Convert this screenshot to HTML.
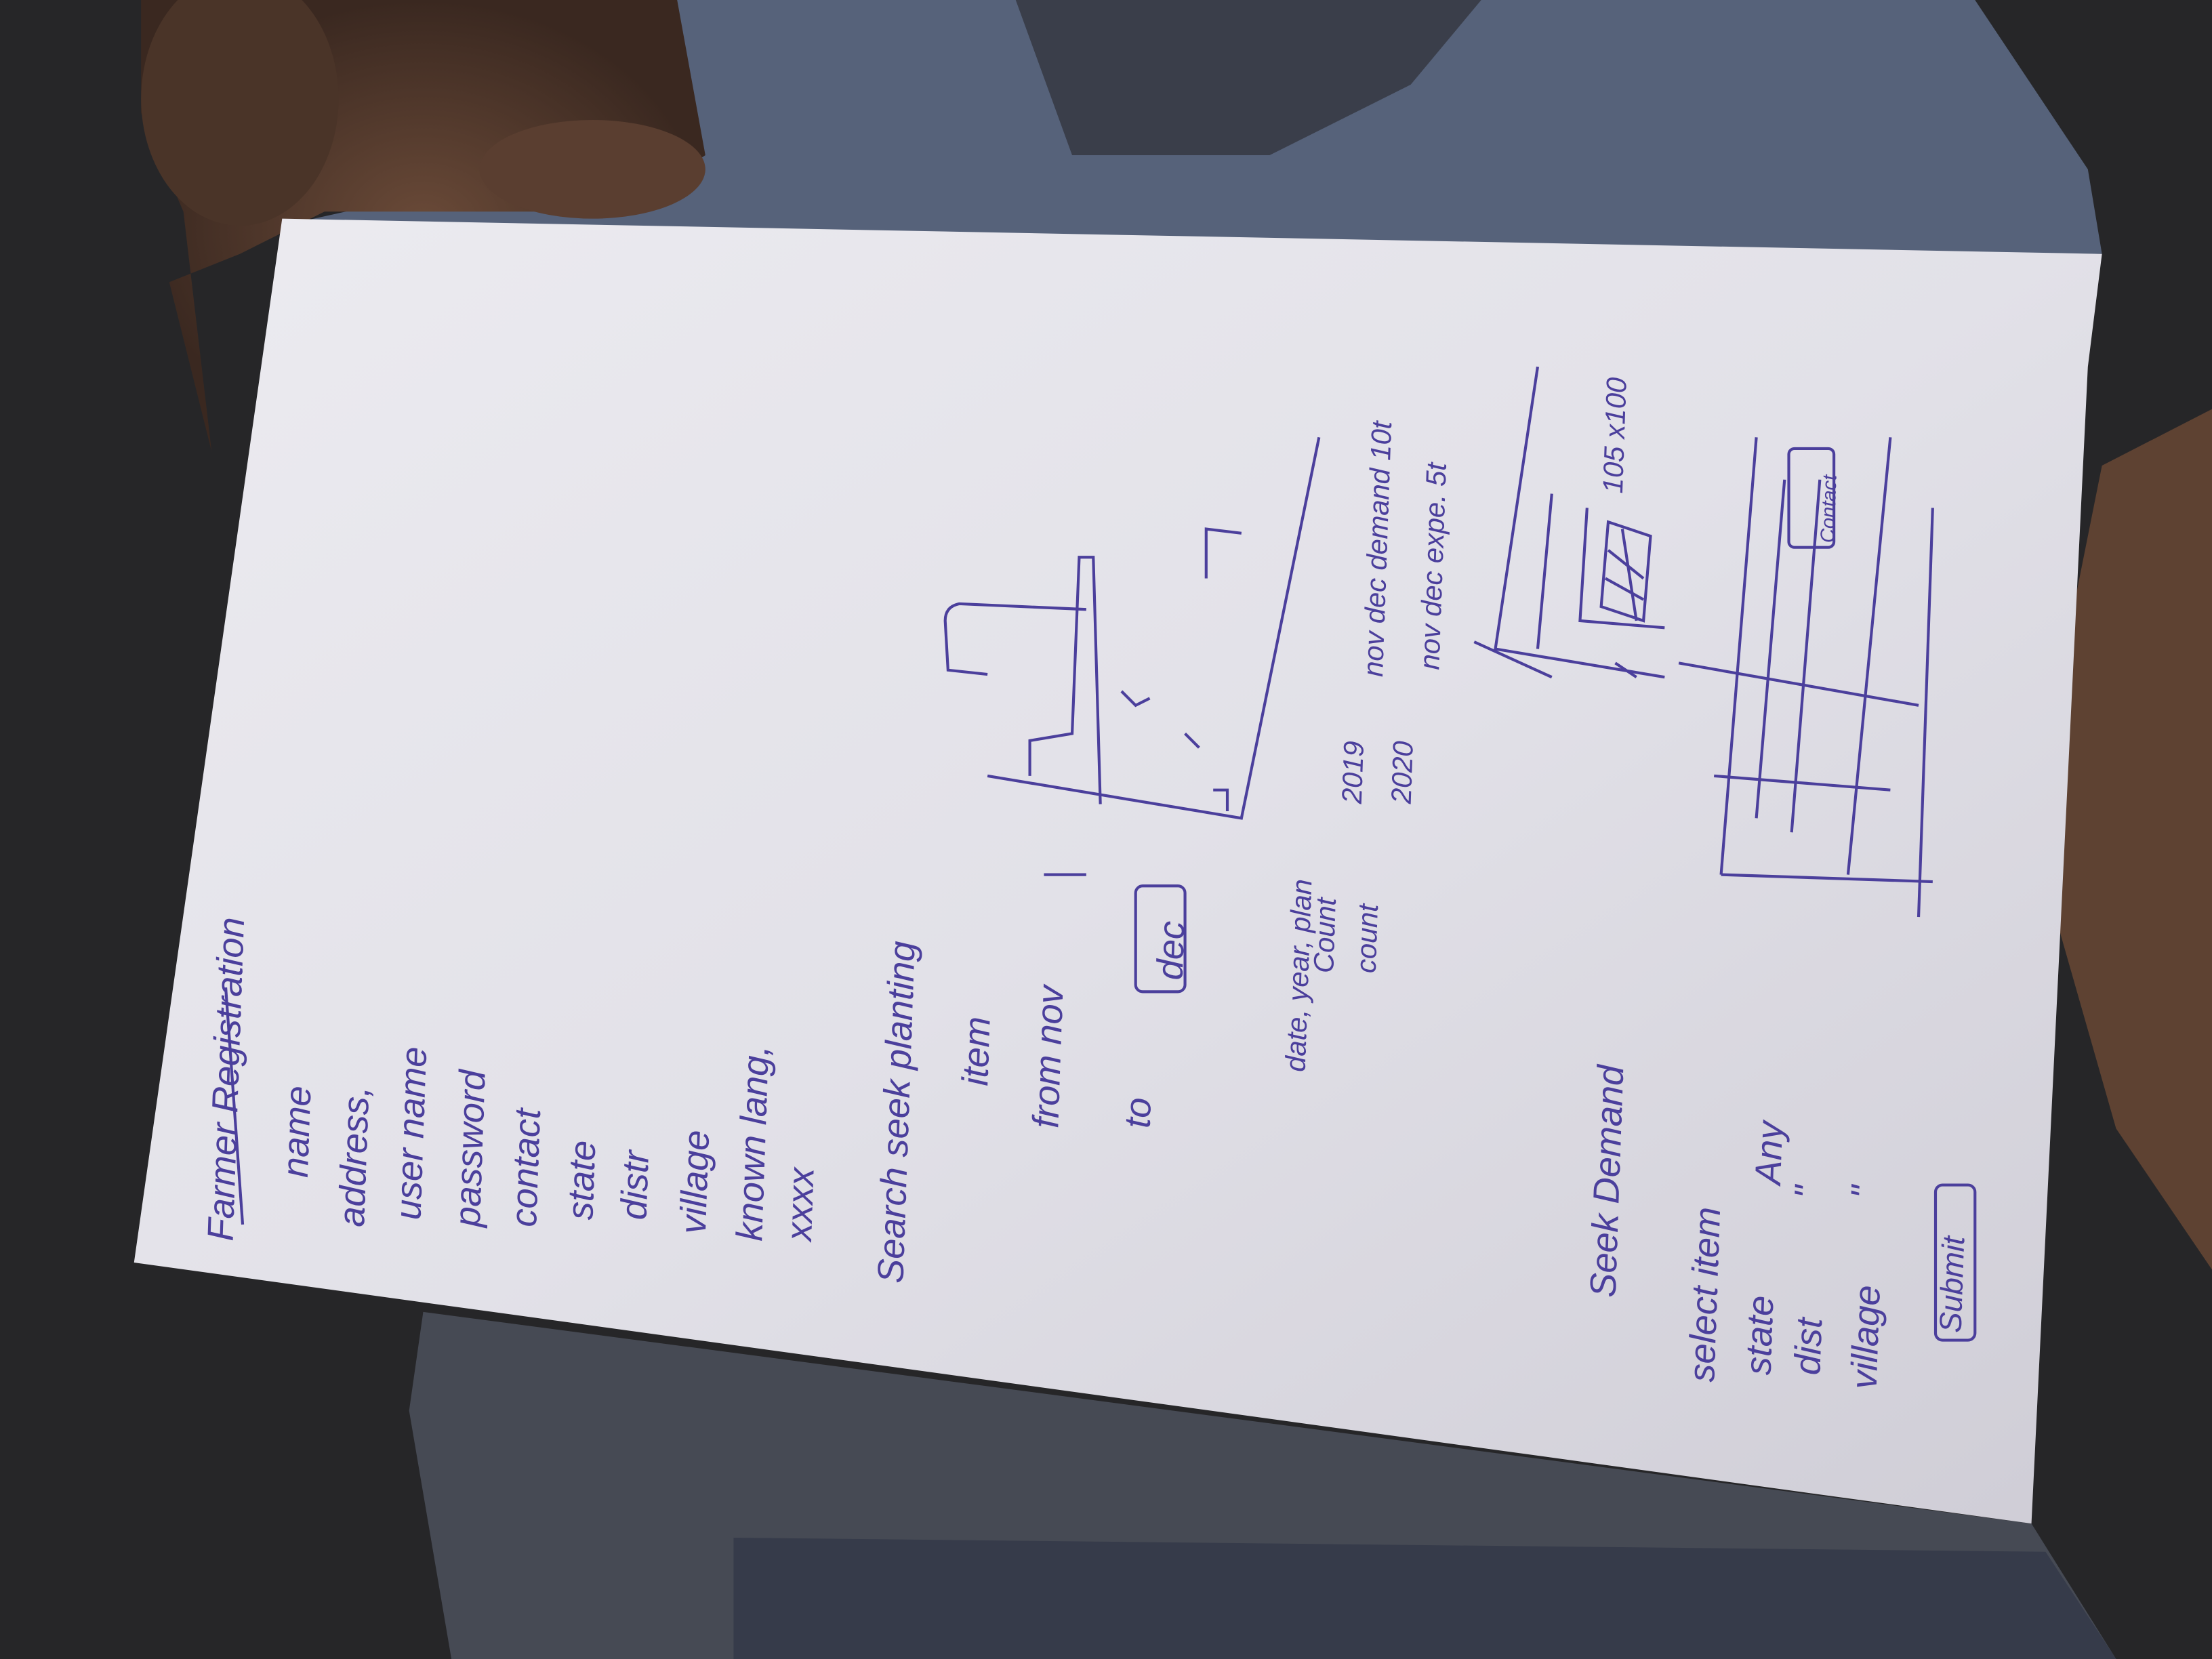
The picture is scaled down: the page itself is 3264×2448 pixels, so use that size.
<!DOCTYPE html>
<html><head><meta charset="utf-8"><style>
html,body{margin:0;padding:0;width:3264px;height:2448px;overflow:hidden;background:#2b2b2e}
svg{display:block}
text{font-family:"Liberation Sans",sans-serif;fill:#4b3f9c;font-style:italic}
</style></head><body>
<svg width="3264" height="2448" viewBox="0 0 1568 1176" preserveAspectRatio="none" xmlns="http://www.w3.org/2000/svg">
<defs>
<linearGradient id="pg" x1="0" y1="0" x2="1" y2="1">
<stop offset="0" stop-color="#ecebf0"/><stop offset="0.5" stop-color="#e2e1e8"/><stop offset="1" stop-color="#cfcdd6"/>
</linearGradient>
<radialGradient id="sk" cx="0.5" cy="0.5" r="0.5"><stop offset="0" stop-color="#6a4a38"/><stop offset="1" stop-color="#3a2820"/></radialGradient>
</defs>
<rect width="1568" height="1176" fill="#262628"/>
<path d="M420 0 L1400 0 L1480 120 L1490 180 L200 160 L380 120 Z" fill="#56627a"/>
<path d="M720 0 L1050 0 L1000 60 L900 110 L760 110 Z" fill="#3a3e4a"/>
<path d="M300 930 L1440 1080 L1500 1176 L320 1176 L290 1000 Z" fill="#464a54"/>
<path d="M520 1090 L1450 1100 L1500 1176 L520 1176 Z" fill="#363b4a"/>
<path d="M100 0 L480 0 L500 110 L440 150 L230 150 L170 180 L120 200 L150 320 L130 150 L100 80 Z" fill="url(#sk)"/>
<ellipse cx="170" cy="70" rx="70" ry="90" fill="#4a3428"/>
<ellipse cx="420" cy="120" rx="80" ry="35" fill="#5a3e30"/>
<path d="M1568 290 L1490 330 L1470 430 L1450 560 L1460 660 L1500 800 L1568 900 Z" fill="#5e4232"/>
<polygon points="200,155 1490,180 1480,260 1440,1080 95,895" fill="url(#pg)"/>
<g font-size="26">
<text transform="translate(165,880) rotate(-88)">Farmer Registration</text>
<line x1="172" y1="868" x2="160" y2="700" stroke="#4b3f9c" stroke-width="2"/>
<text transform="translate(218,835) rotate(-88)">name</text>
<text transform="translate(258,870) rotate(-88)">address,</text>
<text transform="translate(298,865) rotate(-88)">user name</text>
<text transform="translate(340,870) rotate(-88)">password</text>
<text transform="translate(380,870) rotate(-88)">contact</text>
<text transform="translate(420,865) rotate(-88)">state</text>
<text transform="translate(458,865) rotate(-88)">distr</text>
<text transform="translate(500,875) rotate(-88)">village</text>
<text transform="translate(540,880) rotate(-88)">known lang,</text>
<text transform="translate(575,880) rotate(-88)">xxxx</text>
<text transform="translate(640,910) rotate(-88)">Search seek planting</text>
<text transform="translate(700,770) rotate(-88)">item</text>
<text transform="translate(750,800) rotate(-88)">from  nov</text>
<text transform="translate(815,800) rotate(-88)">to</text>
<text transform="translate(838,695) rotate(-88)">dec</text>
<text transform="translate(925,760) rotate(-88)" font-size="20">date, year, plan</text>
<text transform="translate(945,690) rotate(-88)" font-size="20">Count</text>
<text transform="translate(975,690) rotate(-88)" font-size="20">count</text>
<text transform="translate(965,570) rotate(-88)" font-size="20">2019</text>
<text transform="translate(1000,570) rotate(-88)" font-size="20">2020</text>
<text transform="translate(980,480) rotate(-88)" font-size="20">nov dec demand 10t</text>
<text transform="translate(1020,475) rotate(-88)" font-size="20">nov dec expe. 5t</text>
<text transform="translate(1150,350) rotate(-88)" font-size="20">105 x100</text>
<text transform="translate(1145,920) rotate(-88)">Seek Demand</text>
<text transform="translate(1215,980) rotate(-88)">select item</text>
<text transform="translate(1255,975) rotate(-88)">state</text>
<text transform="translate(1262,840) rotate(-88)">Any</text>
<text transform="translate(1290,975) rotate(-88)">dist</text>
<text transform="translate(1290,850) rotate(-88)">"</text>
<text transform="translate(1330,985) rotate(-88)">village</text>
<text transform="translate(1330,850) rotate(-88)">"</text>
<text transform="translate(1390,945) rotate(-88)" font-size="22">Submit</text>
<text transform="translate(1300,385) rotate(-88)" font-size="14">Contact</text>
</g>
<g fill="none" stroke="#4b3f9c" stroke-width="2">
<rect x="805" y="628" width="35" height="75" rx="5"/>
<rect x="1372" y="840" width="28" height="110" rx="5"/>
<rect x="1268" y="318" width="32" height="70" rx="4"/>
<path d="M740 620 L770 620"/>
<path d="M935 310 L880 580 L700 550"/>
<path d="M730 550 L730 525 L760 520 L765 395 L775 395 L780 570"/>
<path d="M770 432 L680 428 Q670 430 670 440 L672 475 L700 478"/>
<path d="M855 410 L855 375 L880 378"/>
<path d="M795 490 L805 500 L815 495 M840 520 L850 530"/>
<path d="M860 560 L870 560 L870 575"/>
<path d="M1090 260 L1060 460 L1180 480"/>
<path d="M1100 350 L1090 460 M1125 360 L1120 440 L1180 445"/>
<path d="M1140 370 L1170 380 L1165 440 L1135 430 Z"/>
<path d="M1140 390 L1165 410 M1138 410 L1165 425 M1150 375 L1160 440"/>
<path d="M1045 455 L1100 480 M1145 470 L1160 480"/>
<path d="M1245 310 L1220 620"/>
<path d="M1340 310 L1310 620"/>
<path d="M1190 470 L1360 500"/>
<path d="M1215 550 L1340 560"/>
<path d="M1220 620 L1370 625"/>
<path d="M1370 360 L1360 650"/>
<path d="M1265 340 L1245 580 M1290 340 L1270 590"/>
</g>
</svg>
</body></html>
